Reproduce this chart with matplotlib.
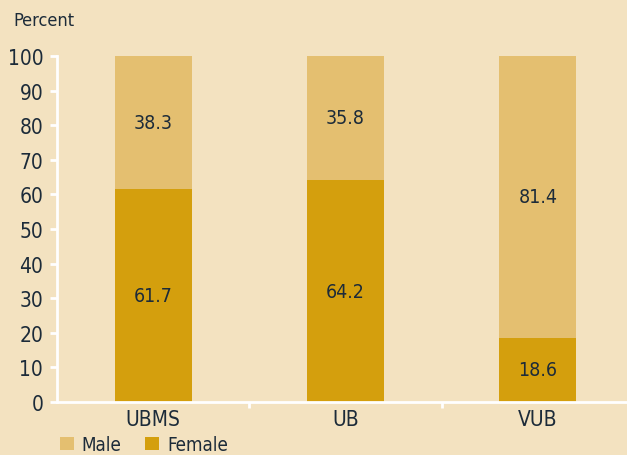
import numpy as np
import matplotlib.pyplot as plt

# chart data
groups = ["UBMS", "UB", "VUB"]
female = [61.7, 64.2, 18.6]
male = [38.3, 35.8, 81.4]
y_ticks = [0, 10, 20, 30, 40, 50, 60, 70, 80, 90, 100]

bg = "#F3E2C0"
male_col = "#E4BF70"
female_col = "#D49F0D"
txt = "#1C2B39"

plt.rcParams['font.family'] = ['DejaVu Sans']
plt.rcParams['font.stretch'] = 'condensed'

fig = plt.figure(figsize=(6.27, 4.56), dpi=100, facecolor=bg)
ax = fig.add_axes([0.091, 0.116, 0.92, 0.759], facecolor=bg)

x = np.arange(len(groups))
ax.bar(x, female, width=0.4, color=female_col, label="Female")
ax.bar(x, male, width=0.4, bottom=female, color=male_col, label="Male")

# value labels in the middle of each segment
for i in range(len(groups)):
    ax.text(x[i], female[i] / 2, "%.1f" % female[i], ha="center", va="center",
            fontsize=14, color=txt)
    ax.text(x[i], female[i] + male[i] / 2, "%.1f" % male[i], ha="center",
            va="center", fontsize=14, color=txt)

ax.set_xlim(-0.5, 2.5)
ax.set_ylim(0, 100)
ax.set_yticks(y_ticks)
ax.set_xticks(x)
ax.set_xticklabels(groups)
ax.set_xticks([0.5, 1.5], minor=True)

for s in ["top", "right"]:
    ax.spines[s].set_visible(False)
for s in ["left", "bottom"]:
    ax.spines[s].set_color("white")
    ax.spines[s].set_linewidth(2)

ax.tick_params(axis="y", colors="white", labelcolor=txt, labelsize=15,
               length=5, width=2, pad=5)
ax.tick_params(axis="x", which="major", length=0, labelcolor=txt,
               labelsize=15, pad=5)
ax.tick_params(axis="x", which="minor", colors="white", length=4, width=2)

fig.text(0.022, 0.954, "Percent", fontsize=13, color=txt, va="center")

handles, labels = ax.get_legend_handles_labels()
leg = fig.legend(handles[::-1], labels[::-1], loc="lower left",
                 bbox_to_anchor=(0.095, 0.002), ncol=2, frameon=False,
                 fontsize=13.5, handlelength=0.75, handleheight=0.75,
                 handletextpad=0.4, columnspacing=1.3, labelcolor=txt,
                 borderaxespad=0, borderpad=0)

fig.savefig("out.png", dpi=100, facecolor=bg)
